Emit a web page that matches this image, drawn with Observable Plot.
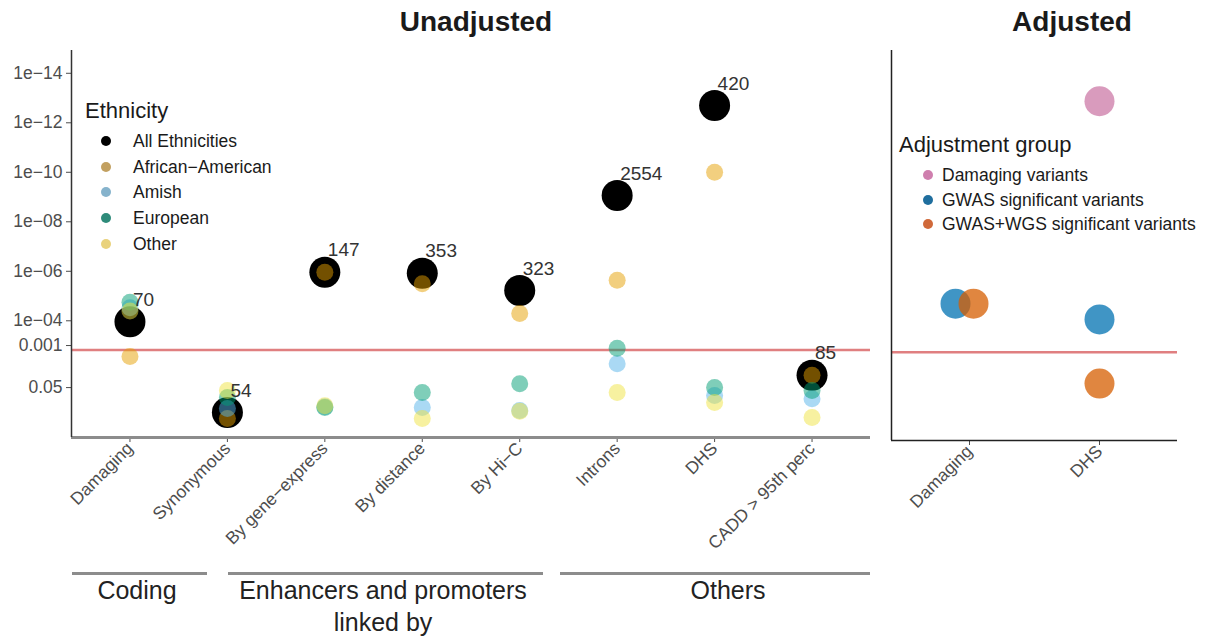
<!DOCTYPE html>
<html>
<head>
<meta charset="utf-8">
<script src="https://cdn.jsdelivr.net/npm/d3@7"></script>
<script src="https://cdn.jsdelivr.net/npm/@observablehq/plot@0.6"></script>
<style>
  body { margin: 0; background: #fff; }
  #root { position: relative; width: 1212px; height: 640px; overflow: hidden;
          font-family: "Liberation Sans", Arial, Helvetica, sans-serif; color: #1a1a1a; }
  .abs { position: absolute; white-space: nowrap; }
  .panel { position: absolute; top: 0; }
  .title { font-weight: bold; font-size: 28px; transform: translate(-50%, -50%); }
  .group { font-size: 25px; transform: translate(-50%, -50%); color: #222; }
  .gline { position: absolute; height: 3px; background: #8c8c8c; }
  .lg-title { font-size: 22px; transform: translateY(-50%); color: #1a1a1a; }
  .lg-item { font-size: 17.5px; transform: translateY(-50%); color: #1a1a1a; }
  .lg-dot { position: absolute; width: 10px; height: 10px; border-radius: 50%; transform: translate(-50%, -50%); }
</style>
</head>
<body>
<div id="root"></div>
<script>
// Variant classes tested for enrichment (unadjusted panel)
const categories = ["Damaging", "Synonymous", "By gene−express", "By distance", "By Hi−C", "Introns", "DHS", "CADD > 95th perc"];
const variantCounts = [70, 54, 147, 353, 323, 2554, 420, 85];

// p-values per ethnicity
const pAll             = [1.1e-4, 0.51, 1.1e-6, 1.2e-6, 6.0e-6, 8.7e-10, 2.0e-13, 0.016];
const pAfricanAmerican = [2.8e-3, 0.89, 1.1e-6, 3.2e-6, 5.1e-5, 2.3e-6, 1.0e-10, 0.016];
const pAmish           = [3.0e-5, 0.35, 0.30, 0.32, 0.42, 5.4e-3, 0.105, 0.14];
const pEuropean        = [1.8e-5, 0.126, 0.32, 0.079, 0.035, 1.3e-3, 0.05, 0.066];
const pOther           = [4.0e-5, 0.066, 0.27, 0.89, 0.45, 0.079, 0.2, 0.81];

const ethnicities = ["All Ethnicities", "African−American", "Amish", "European", "Other"];
const ethnicityColors = ["#000000", "#E69F00", "#56B4E9", "#009E73", "#F0E442"];
const ethnicityKeyColors = ["#000000", "#C2A060", "#86B3CC", "#2E8B7A", "#E9D27C"];

// y axis (p-value, log scale, smallest at the top)
const yTicks = [1e-14, 1e-12, 1e-10, 1e-8, 1e-6, 1e-4, 1e-3, 0.05];
const yTickLabels = ["1e−14", "1e−12", "1e−10", "1e−08", "1e−06", "1e−04", "0.001", "0.05"];
const pDomain = [5.2, 1.2e-15];
const threshold = 0.0015;

// Adjusted panel
const adjCategories = ["Damaging", "DHS"];
const adjGroups = ["Damaging variants", "GWAS significant variants", "GWAS+WGS significant variants"];
const adjColors = ["#CC79A7", "#0072B2", "#D55E00"];
const adjKeyColors = ["#CF7FAE", "#1F6E9E", "#D0693A"];
const pDamagingVariants = [null, 1.3e-13];
const pGwas             = [1.7e-5, 7.3e-5];
const pGwasWgs          = [1.7e-5, 0.027];

// Category groups drawn under the unadjusted panel
const groupNames = ["Coding", "Enhancers and promoters\nlinked by", "Others"];

const FONT = '"Liberation Sans", Arial, Helvetica, sans-serif';
const root = document.getElementById("root");

// ---------- tidy rows ----------
const allRows = categories.map((c, i) => ({i, p: pAll[i], n: variantCounts[i]}));
const ethRows = [];
[[ethnicities[1], pAfricanAmerican], [ethnicities[2], pAmish], [ethnicities[3], pEuropean], [ethnicities[4], pOther]]
  .forEach(([eth, arr]) => arr.forEach((p, i) => ethRows.push({i, p, eth})));

const adjRows = [];
[pDamagingVariants, pGwas, pGwasWgs].forEach((arr, g) =>
  arr.forEach((p, i) => { if (p != null) adjRows.push({i, p, group: adjGroups[g]}); }));
// small horizontal dodge for groups sharing the same value in a category
adjRows.forEach(r => {
  const ties = adjRows.filter(o => o.i === r.i && o.p === r.p);
  r.dodge = ties.length > 1 ? ties.indexOf(r) : -1;
});

// ---------- unadjusted panel ----------
const left = Plot.plot({
  width: 880, height: 640,
  marginLeft: 71, marginRight: 10, marginTop: 50, marginBottom: 203,
  style: {fontFamily: FONT, fontSize: "17.5px", color: "#4d4d4d", background: "transparent", overflow: "visible"},
  x: {type: "linear", domain: [-0.6, categories.length - 0.4], ticks: d3.range(categories.length),
      tickFormat: i => categories[i], tickRotate: -45, tickSize: 5, tickPadding: 3, label: null},
  y: {type: "log", domain: pDomain, ticks: yTicks, tickFormat: d => yTickLabels[yTicks.indexOf(d)],
      tickSize: 5, tickPadding: 4, label: null},
  color: {domain: ethnicities, range: ethnicityColors},
  marks: [
    Plot.ruleY([threshold], {stroke: "#e07f80", strokeWidth: 2.5}),
    Plot.ruleY([pDomain[0]], {stroke: "#8c8c8c", strokeWidth: 3}),
    Plot.ruleX([-0.6], {stroke: "#333", strokeWidth: 1.5}),
    Plot.dot(allRows, {x: "i", y: "p", r: 15.5, fill: ethnicityColors[0]}),
    Plot.dot(ethRows, {x: "i", y: "p", r: 8.5, fill: "eth", fillOpacity: 0.5}),
    Plot.text(allRows, {x: "i", y: "p", text: d => String(d.n), dx: 3, dy: -22, textAnchor: "start", fontSize: 19, fill: "#333"})
  ]
});
left.classList.add("panel");
left.style.left = "0px";
root.appendChild(left);

// ---------- adjusted panel ----------
const dodgeOffsets = [-14, 4];
const adjMarks = [
  Plot.ruleY([threshold], {stroke: "#e07f80", strokeWidth: 2.5}),
  Plot.ruleY([pDomain[0]], {stroke: "#222", strokeWidth: 1.5}),
  Plot.ruleX([-0.6], {stroke: "#222", strokeWidth: 1.5}),
  Plot.dot(adjRows.filter(r => r.dodge < 0), {x: "i", y: "p", r: 15, fill: "group", fillOpacity: 0.75})
];
dodgeOffsets.forEach((dx, k) =>
  adjMarks.push(Plot.dot(adjRows.filter(r => r.dodge === k), {x: "i", y: "p", r: 15, fill: "group", fillOpacity: 0.75, dx})));

const right = Plot.plot({
  width: 332, height: 640,
  marginLeft: 11, marginRight: 35, marginTop: 50, marginBottom: 200,
  style: {fontFamily: FONT, fontSize: "17.5px", color: "#4d4d4d", background: "transparent", overflow: "visible"},
  x: {type: "linear", domain: [-0.6, adjCategories.length - 0.4], ticks: d3.range(adjCategories.length),
      tickFormat: i => adjCategories[i], tickRotate: -45, tickSize: 5, tickPadding: 3, label: null},
  y: {type: "log", domain: pDomain, axis: null},
  color: {domain: adjGroups, range: adjColors},
  marks: adjMarks
});
right.classList.add("panel");
right.style.left = "880px";
root.appendChild(right);

// ---------- titles ----------
function addText(cls, text, x, y) {
  const d = document.createElement("div");
  d.className = "abs " + cls;
  d.style.left = x + "px";
  d.style.top = y + "px";
  d.textContent = text;
  root.appendChild(d);
  return d;
}
addText("title", "Unadjusted", 476, 22);
addText("title", "Adjusted", 1072, 22);

// ---------- category groups ----------
const groupLayout = [
  {x0: 72, x1: 207, cx: 137},
  {x0: 228, x1: 543, cx: 383},
  {x0: 560, x1: 870, cx: 728}
];
groupNames.forEach((name, k) => {
  const g = groupLayout[k];
  const line = document.createElement("div");
  line.className = "gline";
  line.style.left = g.x0 + "px";
  line.style.width = (g.x1 - g.x0) + "px";
  line.style.top = "572px";
  root.appendChild(line);
  name.split("\n").forEach((t, j) => addText("group", t, g.cx, 590 + j * 32));
});

// ---------- legends ----------
function legend(title, labels, colors, x, y, dotX, textX, step) {
  addText("lg-title", title, x, y);
  labels.forEach((lab, k) => {
    const cy = y + 30 + k * step;
    const dot = document.createElement("div");
    dot.className = "lg-dot";
    dot.style.left = dotX + "px";
    dot.style.top = cy + "px";
    dot.style.background = colors[k];
    root.appendChild(dot);
    addText("lg-item", lab, textX, cy);
  });
}
legend("Ethnicity", ethnicities, ethnicityKeyColors, 85, 111, 106, 133, 25.7);
legend("Adjustment group", adjGroups, adjKeyColors, 899, 145, 928, 942, 24.5);
</script>
</body>
</html>
